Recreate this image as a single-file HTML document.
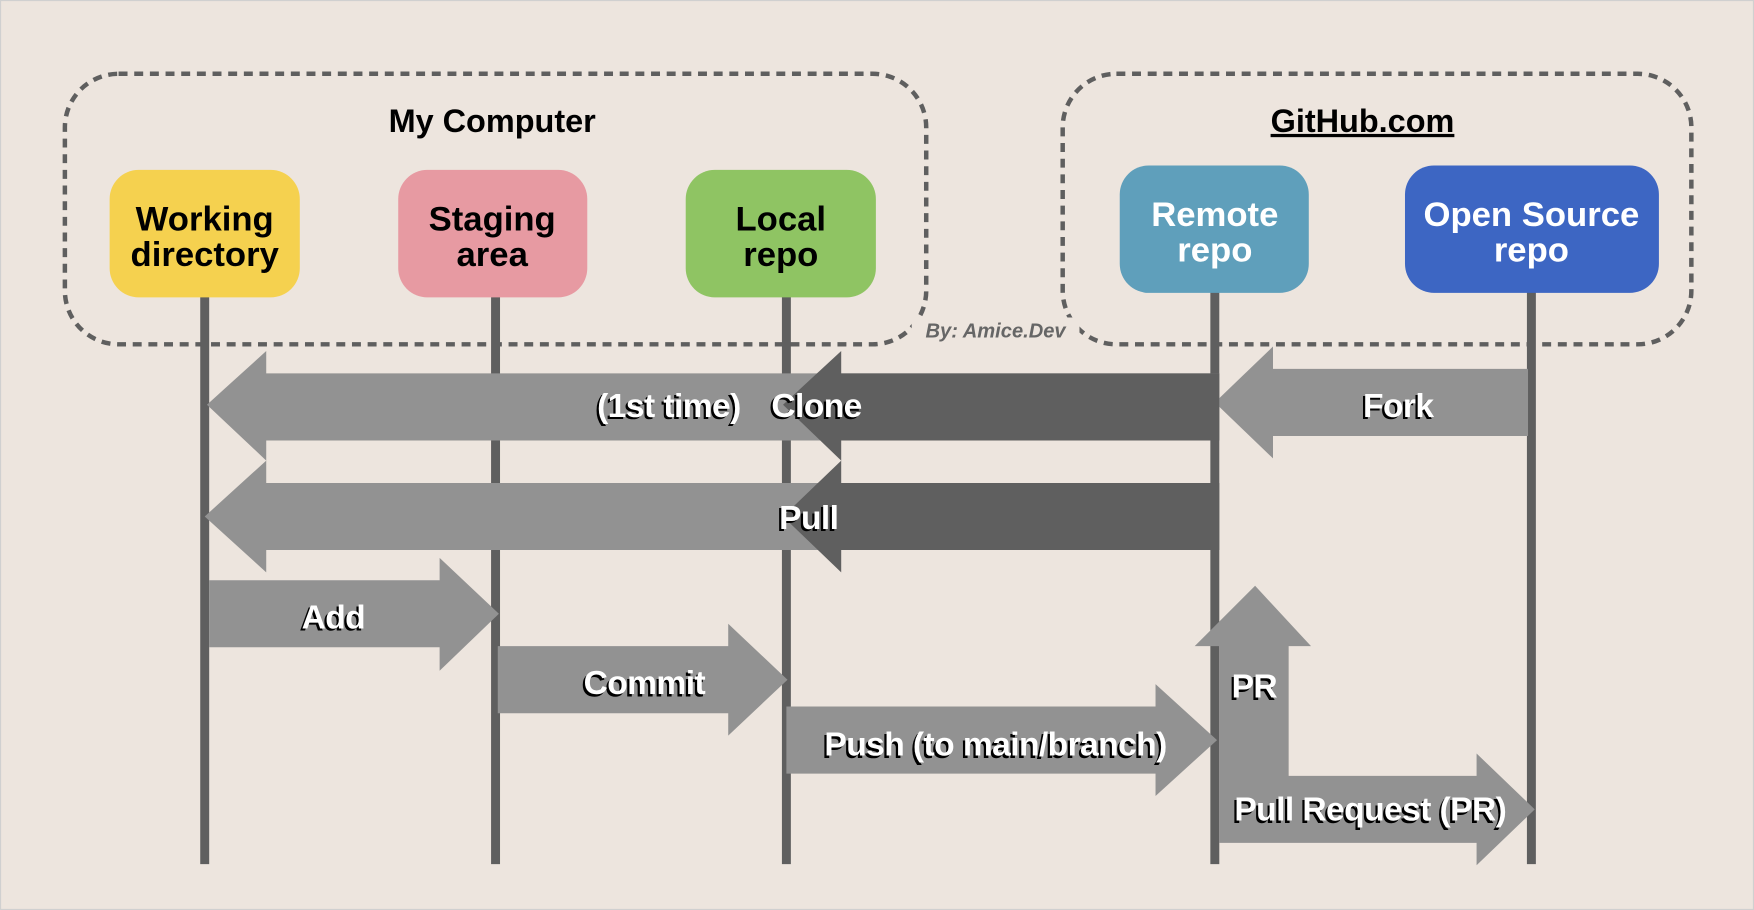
<!DOCTYPE html>
<html><head><meta charset="utf-8"><style>
html,body{margin:0;padding:0;background:#ede5de;}
svg{display:block}
.t{font-family:"Liberation Sans",sans-serif;font-weight:bold;}
</style></head><body>
<svg width="1754" height="910" viewBox="0 0 1568 814" preserveAspectRatio="none">
<rect x="0" y="0" width="1568" height="814" fill="#ede5de" stroke="#d0d0d0" stroke-width="2"/>
<rect x="58" y="66" width="770" height="242" rx="48" fill="none" stroke="#5f5f5f" stroke-width="4" stroke-dasharray="8,6"/>
<rect x="950" y="66" width="562" height="242" rx="48" fill="none" stroke="#5f5f5f" stroke-width="4" stroke-dasharray="8,6"/>
<rect x="815" y="284" width="150" height="26" fill="#ede5de"/>
<text x="440" y="118" class="t" font-size="29" text-anchor="middle" fill="#000">My Computer</text>
<text x="1218" y="118" class="t" font-size="29" text-anchor="middle" fill="#000" text-decoration="underline">GitHub.com</text>
<text x="890" y="302" font-family="Liberation Sans,sans-serif" font-style="italic" font-weight="bold" font-size="18" text-anchor="middle" fill="#666">By: Amice.Dev</text>
<g stroke="#5f5f5f" stroke-width="8">
<line x1="183" y1="260" x2="183" y2="773"/><line x1="443" y1="260" x2="443" y2="773"/><line x1="703" y1="260" x2="703" y2="773"/><line x1="1086" y1="256" x2="1086" y2="773"/><line x1="1369" y1="256" x2="1369" y2="773"/>
</g>
<rect x="98" y="152" width="170" height="114" rx="26" fill="#f5d14f"/>
<rect x="356" y="152" width="169" height="114" rx="26" fill="#e79aa2"/>
<rect x="613" y="152" width="170" height="114" rx="26" fill="#8fc463"/>
<rect x="1001" y="148" width="169" height="114" rx="26" fill="#5f9fbb"/>
<rect x="1256" y="148" width="227" height="114" rx="26" fill="#3d66c3"/>
<g class="t" font-size="31" text-anchor="middle">
<text x="183" y="206" fill="#000">Working</text><text x="183" y="238" fill="#000">directory</text>
<text x="440" y="206" fill="#000">Staging</text><text x="440" y="238" fill="#000">area</text>
<text x="698" y="206" fill="#000">Local</text><text x="698" y="238" fill="#000">repo</text>
<text x="1086" y="202" fill="#fff">Remote</text><text x="1086" y="234" fill="#fff">repo</text>
<text x="1369" y="202" fill="#fff">Open Source</text><text x="1369" y="234" fill="#fff">repo</text>
</g>
<g fill="#929292">
<polygon points="185,362 238,314 238,334 1090,334 1090,394 238,394 238,412"/>
<polygon points="1086,360 1138,310 1138,330 1366,330 1366,390 1138,390 1138,410"/>
<polygon points="183,462 238,412 238,432 1090,432 1090,492 238,492 238,512"/>
<polygon points="187,519 393,519 393,499 446,549 393,600 393,579 187,579"/>
<polygon points="445,578 651,578 651,558 704,608 651,658 651,638 445,638"/>
<polygon points="703,632 1033,632 1033,612 1088,662 1033,712 1033,692 703,692"/>
<polygon points="1090,578 1068,578 1122,524 1172,578 1152,578 1152,694 1320,694 1320,674 1372,724 1320,774 1320,754 1090,754"/>
</g>
<g fill="#5f5f5f">
<polygon points="700,362 752,314 752,334 1090,334 1090,394 752,394 752,412"/>
<polygon points="700,462 752,412 752,432 1090,432 1090,492 752,492 752,512"/>
</g>
<g class="t" font-size="30" letter-spacing="-0.5">
<g fill="#000" transform="translate(-2,2)">
<text x="598" y="373" text-anchor="middle">(1st time)</text>
<text x="730" y="373" text-anchor="middle">Clone</text>
<text x="1250" y="373" text-anchor="middle">Fork</text>
<text x="723" y="473" text-anchor="middle">Pull</text>
<text x="298" y="562" text-anchor="middle">Add</text>
<text x="576" y="621" text-anchor="middle">Commit</text>
<text x="890" y="676" text-anchor="middle">Push (to main/branch)</text>
<text x="1101" y="624">PR</text>
<text x="1225" y="734" text-anchor="middle">Pull Request (PR)</text>
</g>
<g fill="#fff">
<text x="598" y="373" text-anchor="middle">(1st time)</text>
<text x="730" y="373" text-anchor="middle">Clone</text>
<text x="1250" y="373" text-anchor="middle">Fork</text>
<text x="723" y="473" text-anchor="middle">Pull</text>
<text x="298" y="562" text-anchor="middle">Add</text>
<text x="576" y="621" text-anchor="middle">Commit</text>
<text x="890" y="676" text-anchor="middle">Push (to main/branch)</text>
<text x="1101" y="624">PR</text>
<text x="1225" y="734" text-anchor="middle">Pull Request (PR)</text>
</g>
</g>
</svg>
</body></html>
